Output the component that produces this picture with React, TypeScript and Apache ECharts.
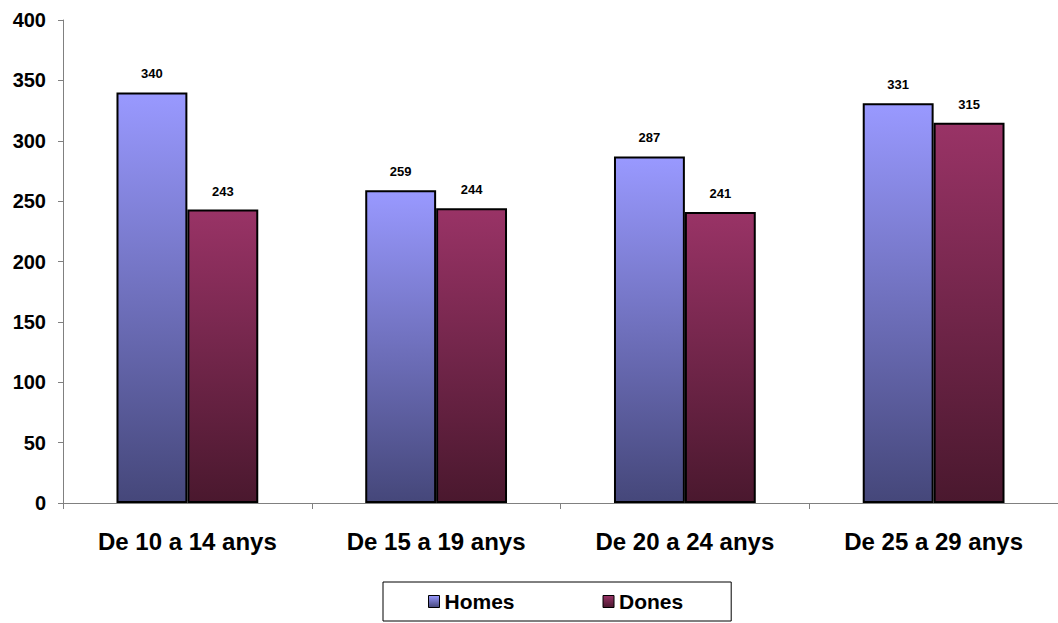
import React, { useEffect, useRef } from "react";
import * as echarts from "echarts";

const categories = ["De 10 a 14 anys", "De 15 a 19 anys", "De 20 a 24 anys", "De 25 a 29 anys"];
const homes = [340, 259, 287, 331];
const dones = [243, 244, 241, 315];
const seriesNames = ["Homes", "Dones"];

const FONT = "'Liberation Sans', Arial, Helvetica, sans-serif";

function grad(top: string, bottom: string) {
  return new echarts.graphic.LinearGradient(0, 0, 0, 1, [
    { offset: 0, color: top },
    { offset: 1, color: bottom },
  ]);
}

export default function App() {
  const ref = useRef<HTMLDivElement>(null);
  useEffect(() => {
    if (!ref.current) return;
    const chart = echarts.init(ref.current, undefined, { renderer: "svg" });
    const labelStyle = {
      show: true,
      position: "top" as const,
      distance: 12,
      fontFamily: FONT,
      fontWeight: "bold" as const,
      fontSize: 13,
      color: "#000",
    };
    chart.setOption({
      animation: false,
      backgroundColor: "#fff",
      grid: { left: 63, right: -4, top: 20, bottom: 120, containLabel: false },
      legend: {
        data: seriesNames,
        icon: "rect",
        left: 383,
        top: 582,
        orient: "horizontal",
        padding: [9, 48, 9, 45],
        itemGap: 88,
        itemWidth: 11,
        itemHeight: 12,
        borderColor: "#000",
        borderWidth: 1,
        borderRadius: 0,
        textStyle: { fontFamily: FONT, fontWeight: "bold", fontSize: 21, color: "#000" },
        itemStyle: { borderColor: "#000", borderWidth: 1 },
      },
      xAxis: {
        type: "category",
        data: categories,
        axisLine: { lineStyle: { color: "#808080", width: 1 } },
        axisTick: { show: true, length: 6, alignWithLabel: false, lineStyle: { color: "#808080" } },
        axisLabel: {
          margin: 26,
          fontFamily: FONT,
          fontWeight: "bold",
          fontSize: 24,
          color: "#000",
        },
      },
      yAxis: {
        type: "value",
        min: 0,
        max: 400,
        interval: 50,
        splitLine: { show: false },
        axisLine: { show: true, lineStyle: { color: "#808080", width: 1 } },
        axisTick: { show: true, length: 5, lineStyle: { color: "#808080" } },
        axisLabel: {
          margin: 17,
          fontFamily: FONT,
          fontWeight: "bold",
          fontSize: 20,
          color: "#000",
        },
      },
      series: [
        {
          name: seriesNames[0],
          type: "bar",
          data: homes,
          barGap: "0%",
          barCategoryGap: "43%",
          itemStyle: { color: grad("#9999FF", "#45477A"), borderColor: "#000", borderWidth: 2 },
          label: labelStyle,
        },
        {
          name: seriesNames[1],
          type: "bar",
          data: dones,
          barGap: "0%",
          barCategoryGap: "43%",
          itemStyle: { color: grad("#993366", "#4A182E"), borderColor: "#000", borderWidth: 2 },
          label: labelStyle,
        },
      ],
    });
    return () => chart.dispose();
  }, []);
  return (
    <div
      ref={ref}
      style={{ position: "fixed", left: 0, top: 0, width: 1058, height: 623, background: "#fff" }}
    />
  );
}
